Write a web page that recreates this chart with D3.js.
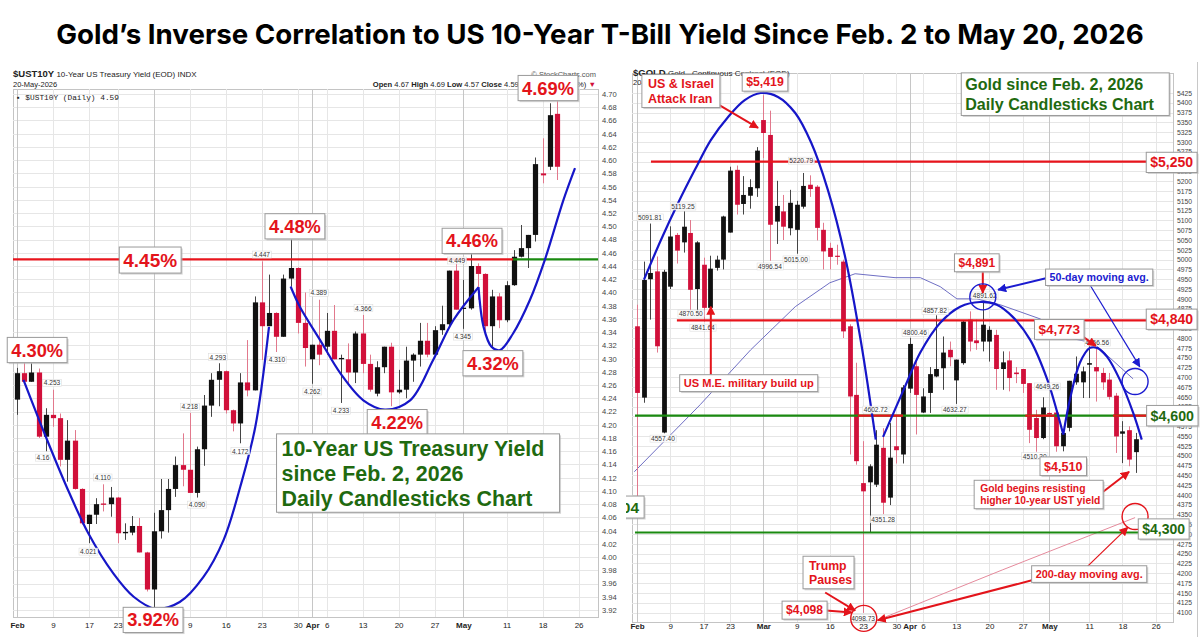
<!DOCTYPE html>
<html>
<head>
<meta charset="utf-8">
<script src="https://cdn.jsdelivr.net/npm/d3@7"></script>
<style>
  body { margin: 0; background: #fff; }
  svg { display: block; }
  text { font-family: "Liberation Sans", Arial, sans-serif; }
</style>
</head>
<body>
<svg id="chart" width="1200" height="637"></svg>
<script>

// ---------------- data ----------------

// trading-day x ticks (index into the candle arrays), shared by both charts
const dayTicks = [
  ["Feb", 0], ["9", 5], ["17", 10], ["23", 14], ["Mar", 19], ["9", 24], ["16", 29],
  ["23", 34], ["30", 39], ["Apr", 41], ["6", 43], ["13", 48], ["20", 53], ["27", 58],
  ["May", 62], ["11", 68], ["18", 73], ["26", 78]
]
const monthNames = ["Feb", "Mar", "Apr", "May"]

// $UST10Y daily candles, Feb 2 - May 20 2026 : [open, high, low, close]
const ustCandles = [
  [4.238,4.286,4.215,4.278],[4.278,4.296,4.265,4.265],[4.265,4.293,4.265,4.279],[4.279,4.285,4.180,4.182],
  [4.182,4.225,4.160,4.215],[4.215,4.253,4.197,4.210],[4.210,4.217,4.137,4.147],[4.147,4.207,4.114,4.176],
  [4.176,4.192,4.102,4.103],[4.103,4.104,4.049,4.051],[4.050,4.064,4.021,4.064],[4.064,4.089,4.050,4.080],
  [4.081,4.110,4.069,4.079],[4.080,4.106,4.061,4.090],[4.090,4.091,4.021,4.036],[4.036,4.051,4.026,4.038],
  [4.037,4.062,4.033,4.047],[4.047,4.059,4.007,4.007],[4.007,4.008,3.948,3.951],[3.951,4.067,3.920,4.039],
  [4.039,4.118,4.028,4.071],[4.071,4.118,4.037,4.103],[4.103,4.152,4.091,4.139],[4.139,4.187,4.107,4.132],
  [4.132,4.218,4.097,4.097],[4.097,4.167,4.090,4.163],[4.163,4.245,4.138,4.229],[4.229,4.278,4.212,4.268],
  [4.268,4.293,4.228,4.281],[4.281,4.282,4.217,4.222],[4.222,4.223,4.190,4.202],[4.202,4.278,4.172,4.264],
  [4.264,4.328,4.243,4.252],[4.252,4.394,4.252,4.385],[4.385,4.447,4.298,4.349],[4.349,4.427,4.349,4.369],
  [4.369,4.370,4.310,4.333],[4.333,4.427,4.333,4.421],[4.421,4.480,4.409,4.437],[4.437,4.438,4.338,4.354],
  [4.354,4.400,4.288,4.316],[4.299,4.321,4.262,4.321],[4.321,4.389,4.290,4.306],[4.318,4.369,4.306,4.342],
  [4.342,4.381,4.299,4.299],[4.299,4.306,4.233,4.301],[4.299,4.323,4.263,4.279],[4.279,4.341,4.263,4.338],
  [4.338,4.366,4.278,4.292],[4.292,4.306,4.250,4.253],[4.247,4.296,4.243,4.287],[4.287,4.318,4.278,4.318],
  [4.318,4.324,4.228,4.249],[4.249,4.283,4.247,4.253],[4.253,4.318,4.240,4.297],[4.297,4.308,4.265,4.306],
  [4.306,4.354,4.288,4.327],[4.327,4.354,4.302,4.306],[4.306,4.349,4.303,4.343],[4.343,4.380,4.336,4.352],
  [4.352,4.433,4.346,4.433],[4.433,4.449,4.374,4.374],[4.375,4.419,4.345,4.377],[4.376,4.460,4.374,4.440],
  [4.440,4.444,4.389,4.428],[4.428,4.429,4.338,4.349],[4.349,4.404,4.318,4.394],[4.394,4.399,4.346,4.358],
  [4.358,4.417,4.355,4.411],[4.411,4.464,4.410,4.454],[4.454,4.502,4.453,4.467],[4.467,4.487,4.437,4.487],
  [4.487,4.604,4.477,4.594],[4.580,4.633,4.565,4.577],[4.590,4.686,4.585,4.668],[4.670,4.690,4.570,4.590]
]

// $GOLD daily candles, same days : [open, high, low, close]
const goldCandles = [
  [4830,4885,4396,4660],[4648,4995,4635,4948],[4950,5092,4847,4966],[4970,5008,4763,4779],
  [4559,4974,4557,4969],[4931,5085,4925,5059],[5063,5068,4990,5023],[5044,5123,5018,5084],
  [5068,5101,4870,4923],[4925,5047,4865,5044],[4987,5005,4842,4877],[4877,5010,4870,4977],
  [4979,5010,4972,5000],[5000,5112,4975,5110],[5069,5237,5069,5227],[5229,5240,5115,5140],
  [5142,5213,5115,5165],[5163,5205,5130,5185],[5182,5287,5160,5278],[5356,5419,5259,5323],
  [5318,5380,4997,5089],[5097,5201,5040,5137],[5123,5165,5050,5084],[5080,5178,5062,5145],
  [5076,5150,5015,5140],[5135,5221,5130,5188],[5191,5215,5160,5180],[5186,5190,5049,5081],
  [5076,5094,4975,5021],[5030,5043,4975,5007],[5010,5038,4987,5007],[4995,5000,4800,4817],
  [4830,4835,4503,4651],[4655,4737,4477,4486],[4430,4537,4099,4409],[4432,4478,4304,4473],
  [4426,4565,4420,4528],[4520,4570,4351,4380],[4393,4583,4374,4495],[4524,4603,4480,4514],
  [4503,4680,4480,4674],[4671,4800,4660,4785],[4728,4745,4554,4655],[4610,4672,4609,4651],
  [4660,4726,4609,4708],[4702,4858,4700,4721],[4723,4804,4668,4763],[4770,4791,4728,4751],
  [4692,4745,4632,4745],[4736,4845,4732,4842],[4847,4868,4766,4791],[4794,4847,4770,4787],
  [4791,4892,4766,4834],[4791,4830,4740,4821],[4808,4821,4668,4721],[4721,4766,4668,4738],
  [4743,4766,4664,4698],[4712,4726,4685,4708],[4721,4721,4660,4683],[4685,4685,4532,4566],
  [4596,4617,4510,4545],[4545,4649,4542,4623],[4609,4611,4600,4605],[4610,4610,4510,4524],
  [4524,4562,4511,4558],[4571,4691,4562,4691],[4687,4753,4681,4709],[4687,4727,4647,4715],
  [4732,4796,4647,4736],[4726,4773,4638,4715],[4711,4724,4668,4687],[4694,4711,4643,4650],
  [4653,4660,4507,4549],[4556,4588,4481,4562],[4565,4575,4473,4490],[4509,4558,4456,4542]
]

// y-axis tick labels
const ustTicks  = d3.range(392, 471, 2).map(d => d / 100)
const goldTicks = d3.range(4100, 5426, 25)

const gold50ma  = [[-0.4,4459],[9.5,4630],[17.1,4770],[23.8,4880],[29,4941],[32.8,4964],[38.8,4954],
                   [42.6,4954],[45.6,4931],[48.1,4900],[51.1,4900],[54.6,4885],[60.6,4849],[65.6,4798],
                   [68.6,4788],[74.6,4696]]
const gold200ma = [[36.1,4080],[55,4209],[74.9,4342]]

// hand-drawn blue trend arcs : [dayIndex, value]
const ustArcs = [
  [[0.9,4.268],[4,4.182],[6.9,4.106],[9.9,4.036],[13.4,3.975],[16.2,3.940],[19.2,3.922],[22.6,3.932],
   [25.9,3.970],[28.7,4.026],[31,4.106],[33.1,4.197],[35,4.348]],
  [[38,4.409],[39.3,4.378],[42.1,4.328],[44.9,4.278],[48.1,4.237],[51.1,4.223],[54.6,4.237],[57.8,4.298],
   [60.6,4.358],[64.1,4.408]],
  [[64.1,4.408],[64.8,4.348],[65.9,4.318],[67.1,4.313],[68.9,4.338],[71.25,4.389],[73.3,4.449],
   [75.9,4.540],[77.5,4.588]]
]
const goldArcs = [
  [[1.05,4949],[3.6,5050],[6.2,5145],[8.7,5229],[11.1,5305],[13.7,5364],[16.2,5407],[18.6,5425],
   [21.2,5415],[23.8,5374],[26.2,5298],[28.7,5178],[31.3,5007],[33.7,4788],[35.9,4541]],
  [[37,4548],[40.3,4676],[42.6,4763],[45.6,4839],[48.6,4880],[51.6,4892],[54.1,4885],[56.5,4854],
   [59.1,4796],[61.7,4694],[63.2,4610],[64.1,4554]],
  [[64.1,4554],[65.1,4643],[66.6,4737],[68.1,4775],[69.2,4775],[70.7,4752],[72.6,4694],[74.6,4610],
   [75.9,4541]]
]

// horizontal levels
const ustLevel  = 4.45
const goldLevels = [
  { v: 5250, from: 2.1,  c: "red" },
  { v: 4845, from: 6.0,  c: "red" },
  { v: 4602, from: -0.3, c: "green" },
  { v: 4304, from: -0.3, c: "green" }
]
const goldRedOn4600 = [[33.2, 40.0], [58.4, 62.8], [71.6, 76.8]]

// small price labels : [dayIndex, value, text]
const ustPriceLabels = [
  [4.86,4.263,"4.253"],[3.6,4.150,"4.16"],[11.9,4.120,"4.110"],[9.9,4.008,"4.021"],[24,4.227,"4.218"],
  [25,4.079,"4.090"],[27.9,4.302,"4.293"],[31,4.160,"4.172"],[34,4.457,"4.447"],[36.1,4.298,"4.310"],
  [41.9,4.399,"4.389"],[41,4.250,"4.262"],[45,4.221,"4.233"],[48.1,4.376,"4.366"],[61.1,4.448,"4.449"],
  [61.9,4.333,"4.345"]
]
const goldPriceLabels = [
  [1.95,5107,"5091.81"],[6.9,5135,"5119.25"],[8.1,4862,"4870.50"],[9.9,4826,"4841.64"],
  [20,4982,"4996.54"],[23.9,5000,"5015.00"],[24.7,5252,"5220.79"],[3.9,4543,"4557.40"],
  [35.9,4617,"4602.72"],[37,4337,"4351.28"],[34,4085,"4098.73"],[41.8,4813,"4800.46"],
  [44.8,4869,"4857.82"],[52.3,4908,"4891.62"],[47.8,4617,"4632.27"],[61.7,4676,"4649.26"],
  [59.8,4498,"4510.30"],[69.2,4788,"4756.56"]
]

// callout boxes anchored at [dayIndex, value]
const ustCallouts = [
  { lines: ["4.30%"], i: 2.8,   v: 4.313, fs: 18.3, c: "red" },
  { lines: ["4.45%"], i: 18.5,  v: 4.449, fs: 19,   c: "red" },
  { lines: ["4.48%"], i: 38.6,  v: 4.500, fs: 18.3, c: "red" },
  { lines: ["3.92%"], i: 18.9,  v: 3.905, fs: 18.3, c: "red" },
  { lines: ["4.22%"], i: 52.8,  v: 4.204, fs: 18.3, c: "red" },
  { lines: ["4.32%"], i: 66.1,  v: 4.293, fs: 18.3, c: "red" },
  { lines: ["4.46%"], i: 63.2,  v: 4.478, fs: 18.3, c: "red" },
  { lines: ["4.69%"], i: 73.75, v: 4.709, fs: 18.3, c: "red" },
  { lines: ["10-Year US Treasury Yield", "since Feb. 2, 2026", "Daily Candlesticks Chart"],
    i: 55.7, v: 4.127, fs: 21.4, lh: 24.8, c: "green", left: true, padX: 3, bw: 283 }
]
const goldCallouts = [
  { lines: ["$5,419"], i: 19.25, v: 5453, fs: 12.3, c: "red" },
  { lines: ["US & Israel", "Attack Iran"], i: 6.6, v: 5430, fs: 12.5, c: "red", left: true, bw: 78 },
  { lines: ["$5,250"], i: 80.4, v: 5248, fs: 14, c: "red" },
  { lines: ["$4,840"], i: 80.4, v: 4848, fs: 14, c: "red" },
  { lines: ["$4,600"], i: 80.5, v: 4602, fs: 14.2, c: "green" },
  { lines: ["$4,300"], i: 79.2, v: 4313, fs: 14, c: "green" },
  { lines: ["$4,304"], i: -3.25, v: 4369, fs: 15.5, c: "green", padX: 5 },
  { lines: ["US M.E. military build up"], i: 16.8, v: 4685, fs: 11.1, c: "red" },
  { lines: ["Trump", "Pauses"], i: 28.8, v: 4202, fs: 12.3, c: "red", left: true, bw: 51 },
  { lines: ["$4,098"], i: 25.2, v: 4106, fs: 12.1, c: "red" },
  { lines: ["$4,891"], i: 51.1, v: 4992, fs: 12, c: "red" },
  { lines: ["50-day moving avg."], i: 69.5, v: 4955, fs: 10.7, c: "blue" },
  { lines: ["$4,773"], i: 63.5, v: 4822, fs: 13.6, c: "red" },
  { lines: ["$4,510"], i: 64.1, v: 4473, fs: 12.6, c: "red" },
  { lines: ["Gold begins resisting", "higher 10-year UST yield"], i: 60.4, v: 4401, fs: 10.3, lh: 12.2, c: "red", left: true, bw: 129 },
  { lines: ["200-day moving avg."], i: 68.0, v: 4198, fs: 10.9, c: "red" },
  { lines: ["Gold since Feb. 2, 2026", "Daily Candlesticks Chart"], i: 64.4, v: 5422, fs: 16.1, lh: 19.3, c: "green", left: true, padX: 2, bw: 208 }
]

// arrows and circles on the gold chart : [dayIndex, value]
const goldArrows = [
  { from: [11.1,5407], to: [18.2,5336], c: "red" },
  { from: [11.1,4706], to: [11.1,4880], c: "red" },
  { from: [28.3,4151], to: [32.8,4105], c: "red" },
  { from: [28.4,4105], to: [32.3,4100], c: "red" },
  { from: [52.0,4971], to: [52.0,4915], c: "red" },
  { from: [61.8,4954], to: [54.3,4923], c: "blue" },
  { from: [68.1,4936], to: [75.6,4727], c: "blue", thin: true },
  { from: [67.1,4803], to: [69.0,4780], c: "red" },
  { from: [70.1,4408], to: [74.0,4459], c: "red" },
  { from: [67.7,4217], to: [73.8,4317], c: "red", thin: true },
  { from: [59.8,4184], to: [36.2,4080], c: "red" }
]
const goldCircles = [
  { at: [34.1,4085], c: "red" },
  { at: [52.0,4905], c: "blue" },
  { at: [74.9,4689], c: "blue" },
  { at: [74.9,4345], c: "red" }
]

// ---------------- drawing ----------------

const colors = { red: "#e3141b", green: "#1f6a10", blue: "#1b1bd0" }
const upColor = "#111", downColor = "#d1103a"

const svg = d3.select("#chart")

const defs = svg.append("defs")
;["red", "blue"].forEach(c => {
  defs.append("marker").attr("id", "arrow-" + c)
    .attr("viewBox", "0 0 10 10").attr("refX", 9).attr("refY", 5)
    .attr("markerWidth", 9).attr("markerHeight", 9).attr("markerUnits", "userSpaceOnUse")
    .attr("orient", "auto")
    .append("path").attr("d", "M0,0 L10,5 L0,10 z").attr("fill", colors[c])
})
defs.append("clipPath").attr("id", "goldPanel")
  .append("rect").attr("x", 626).attr("y", 60).attr("width", 574).attr("height", 577)

// title
const title = svg.append("text")
  .attr("x", 600).attr("y", 44).attr("text-anchor", "middle")
  .style("font-family", "Inter, 'Liberation Sans', sans-serif")
  .attr("font-weight", 700).attr("font-size", 27).attr("fill", "#000")
  .text("Gold\u2019s Inverse Correlation to US 10-Year T-Bill Yield Since Feb. 2 to May 20, 2026")
const tw = title.node().getComputedTextLength()
title.attr("font-size", 27 * 1088 / tw)

// image frame on the right
svg.append("line").attr("x1", 1197.5).attr("x2", 1197.5).attr("y1", 62).attr("y2", 637)
  .attr("stroke", "#c8c8c8")


function drawPanel(p) {
  const g = svg.append("g")
  if (p.clip) g.attr("clip-path", "url(#" + p.clip + ")")
  const x = p.x, y = p.y

  // plot frame + grid
  g.append("rect").attr("x", p.x0 + 0.5).attr("y", p.y0 + 0.5)
    .attr("width", p.x1 - p.x0).attr("height", p.y1 - p.y0)
    .attr("fill", "#fff").attr("stroke", "#c4c4c4")

  g.append("g").selectAll("line").data(p.yTicks).join("line")
    .attr("x1", p.x0).attr("x2", p.x1)
    .attr("y1", d => Math.round(y(d)) + 0.5).attr("y2", d => Math.round(y(d)) + 0.5)
    .attr("stroke", "#e6e6e6")

  g.append("g").selectAll("line").data(dayTicks).join("line")
    .attr("x1", d => Math.round(x(d[1])) + 0.5).attr("x2", d => Math.round(x(d[1])) + 0.5)
    .attr("y1", p.y0).attr("y2", p.y1)
    .attr("stroke", d => monthNames.includes(d[0]) ? "#c6c6c6" : "#e6e6e6")

  // axes
  const yAxis = d3.axisRight(y).tickValues(p.yTicks).tickSize(0).tickPadding(0).tickFormat(p.fmt)
  const ya = g.append("g").attr("transform", `translate(${p.x1 + 4},0)`).call(yAxis)
  ya.select(".domain").remove()
  ya.selectAll("text").attr("font-size", p.yFont).attr("fill", "#444")
    .style("font-family", "'Liberation Sans', Arial, sans-serif")

  const labelOf = new Map(dayTicks.map(d => [d[1], d[0]]))
  const xAxis = d3.axisBottom(x).tickValues(dayTicks.map(d => d[1])).tickSize(0).tickPadding(p.xPad)
    .tickFormat(i => labelOf.get(i))
  const xa = g.append("g").attr("transform", `translate(0,${p.y1})`).call(xAxis)
  xa.select(".domain").remove()
  xa.selectAll("text").attr("font-size", 8).attr("fill", "#222")
    .style("font-family", "'Liberation Sans', Arial, sans-serif")
    .attr("font-weight", d => monthNames.includes(labelOf.get(d)) ? "bold" : "normal")

  // moving averages
  const lineXY = d3.line().x(d => x(d[0])).y(d => y(d[1]))
  ;(p.mas || []).forEach(m => {
    g.append("path").attr("d", lineXY(m.data)).attr("fill", "none")
      .attr("stroke", m.color).attr("stroke-width", 1)
  })

  // candles
  const up = d => d[3] >= d[0]
  g.append("g").selectAll("line").data(p.candles).join("line")
    .attr("x1", (d, i) => Math.round(x(i)) + 0.5).attr("x2", (d, i) => Math.round(x(i)) + 0.5)
    .attr("y1", d => y(d[1])).attr("y2", d => y(d[2]))
    .attr("stroke", d => up(d) ? "#444" : "#e2788c").attr("stroke-width", 1)
  g.append("g").selectAll("rect").data(p.candles).join("rect")
    .attr("x", (d, i) => Math.round(x(i)) + 0.5 - p.bodyW / 2)
    .attr("y", d => y(Math.max(d[0], d[3])))
    .attr("width", p.bodyW)
    .attr("height", d => Math.max(1.2, Math.abs(y(d[0]) - y(d[3]))))
    .attr("fill", d => up(d) ? upColor : downColor)

  return g
}

function drawArcs(g, arcs, x, y) {
  const curve = d3.line().x(d => x(d[0])).y(d => y(d[1])).curve(d3.curveCatmullRom.alpha(0.5))
  arcs.forEach(a => g.append("path").attr("d", curve(a))
    .attr("fill", "none").attr("stroke", "#1616c8").attr("stroke-width", 2.2))
}

function drawPriceLabels(g, labels, x, y) {
  labels.forEach(d => {
    const t = g.append("text").attr("x", x(d[0])).attr("y", y(d[1]) + 2.3)
      .attr("text-anchor", "middle").attr("font-size", 6.6).attr("fill", "#333").text(d[2])
    const bb = t.node().getBBox()
    g.insert("rect", () => t.node())
      .attr("x", bb.x - 1).attr("y", bb.y).attr("width", bb.width + 2).attr("height", bb.height)
      .attr("fill", "#fff").attr("fill-opacity", 0.85).attr("stroke", "#d8d8d8").attr("stroke-width", 0.5)
  })
}

function drawCallouts(g, callouts, x, y) {
  callouts.forEach(c => {
    const lh = c.lh || c.fs * 1.16
    const padX = c.padX != null ? c.padX : 4, padY = 2
    const grp = g.append("g")
    const t = grp.append("text").attr("font-size", c.fs).attr("font-weight", "bold").attr("fill", colors[c.c])
    c.lines.forEach(s => t.append("tspan").text(s))
    const widths = []
    t.selectAll("tspan").each(function () { widths.push(this.getComputedTextLength()) })
    const w = c.bw || d3.max(widths) + padX * 2
    const h = c.lines.length * lh + padY * 2
    const left = x(c.i) - w / 2, top = y(c.v) - h / 2
    t.selectAll("tspan")
      .attr("x", c.left ? left + padX + 2 : x(c.i))
      .attr("y", (s, k) => top + padY + k * lh + lh / 2 + c.fs * 0.358)
      .attr("text-anchor", c.left ? "start" : "middle")
    grp.insert("rect", "text").attr("x", left + 1.5).attr("y", top + 1.5).attr("width", w).attr("height", h)
      .attr("fill", "#b8b8b8").attr("opacity", 0.6)
    grp.insert("rect", "text").attr("x", left).attr("y", top).attr("width", w).attr("height", h)
      .attr("fill", "#fff").attr("stroke", "#9a9a9a").attr("stroke-width", 1)
  })
}


// ---------- left: 10-year yield ----------
const xU = d3.scaleLinear().domain([0, 75]).range([17, 557])
const yU = d3.scaleLinear().domain([3.92, 4.70]).range([610, 94])

const gU = drawPanel({
  x: xU, y: yU, x0: 13, x1: 598, y0: 89, y1: 617,
  yTicks: ustTicks, fmt: d3.format(".2f"), yFont: 7.6, xPad: 5,
  candles: ustCandles, bodyW: 5.2
})

// header text
const hU = svg.append("g").attr("fill", "#222")
hU.append("text").attr("x", 13).attr("y", 77).attr("font-size", 8)
  .call(t => {
    t.append("tspan").attr("font-weight", "bold").attr("font-size", 9.5).text("$UST10Y")
    t.append("tspan").text(" 10-Year US Treasury Yield (EOD) INDX")
  })
hU.append("text").attr("x", 13).attr("y", 86.5).attr("font-size", 7.5).text("20-May-2026")
hU.append("text").attr("x", 596).attr("y", 77).attr("font-size", 7.5).attr("text-anchor", "end")
  .attr("fill", "#555").text("\u00A9 StockCharts.com")
hU.append("text").attr("x", 596).attr("y", 87).attr("font-size", 7.6).attr("text-anchor", "end")
  .call(t => {
    t.append("tspan").attr("font-weight", "bold").text("Open ")
    t.append("tspan").text("4.67  ")
    t.append("tspan").attr("font-weight", "bold").text("High ")
    t.append("tspan").text("4.69  ")
    t.append("tspan").attr("font-weight", "bold").text("Low ")
    t.append("tspan").text("4.57  ")
    t.append("tspan").attr("font-weight", "bold").text("Close ")
    t.append("tspan").text("4.59  ")
    t.append("tspan").attr("font-weight", "bold").text("Chg ")
    t.append("tspan").text("-0.08 (-1.69%) ")
    t.append("tspan").attr("fill", "#d1103a").text("\u25BC")
  })
gU.append("text").attr("x", 16).attr("y", 100).attr("font-size", 7.8)
  .style("font-family", "'Liberation Mono', monospace").attr("fill", "#222")
  .text("\u25AA $UST10Y (Daily) 4.59")

// 4.45% resistance, red then green once broken
gU.append("line").attr("x1", 13).attr("x2", 513).attr("y1", yU(ustLevel)).attr("y2", yU(ustLevel))
  .attr("stroke", "#e8141c").attr("stroke-width", 2.2)
gU.append("line").attr("x1", 513).attr("x2", 598).attr("y1", yU(ustLevel)).attr("y2", yU(ustLevel))
  .attr("stroke", "#1a8a10").attr("stroke-width", 2.2)

drawArcs(gU, ustArcs, xU, yU)
drawPriceLabels(gU, ustPriceLabels, xU, yU)
drawCallouts(svg.append("g"), ustCallouts, xU, yU)


// ---------- right: gold ----------
const xG = d3.scaleLinear().domain([0, 75]).range([637, 1135.75])
const yG = d3.scaleLinear().domain([4100, 5425]).range([612.5, 93])

const gG = drawPanel({
  x: xG, y: yG, x0: 632, x1: 1173, y0: 73, y1: 622,
  yTicks: goldTicks, fmt: d3.format("d"), yFont: 6.8, xPad: 1,
  candles: goldCandles, bodyW: 4.8, clip: "goldPanel",
  mas: [{ data: gold50ma, color: "#6f6fc4" }, { data: gold200ma, color: "#e58a9c" }]
})

const hG = svg.append("g").attr("fill", "#222")
hG.append("text").attr("x", 633).attr("y", 76).attr("font-size", 8)
  .call(t => {
    t.append("tspan").attr("font-weight", "bold").attr("font-size", 9.5).text("$GOLD")
    t.append("tspan").text(" Gold - Continuous Contract (EOD)")
  })
hG.append("text").attr("x", 633).attr("y", 85).attr("font-size", 7.5).text("20-May-2026")

// horizontal support / resistance levels
goldLevels.forEach(l => {
  gG.append("line").attr("x1", xG(l.from)).attr("x2", 1150)
    .attr("y1", yG(l.v)).attr("y2", yG(l.v))
    .attr("stroke", l.c === "red" ? "#e8141c" : "#1a8a10").attr("stroke-width", 2.2)
})
goldRedOn4600.forEach(s => {
  gG.append("line").attr("x1", xG(s[0])).attr("x2", xG(s[1]))
    .attr("y1", yG(4602)).attr("y2", yG(4602))
    .attr("stroke", "#e8141c").attr("stroke-width", 2.2)
})

drawArcs(gG, goldArcs, xG, yG)
drawPriceLabels(gG, goldPriceLabels, xG, yG)

// arrows
goldArrows.forEach(a => {
  gG.append("line")
    .attr("x1", xG(a.from[0])).attr("y1", yG(a.from[1]))
    .attr("x2", xG(a.to[0])).attr("y2", yG(a.to[1]))
    .attr("stroke", colors[a.c]).attr("stroke-width", a.thin ? 1.2 : 2)
    .attr("marker-end", `url(#arrow-${a.c})`)
})

// circles
goldCircles.forEach(c => {
  gG.append("circle").attr("cx", xG(c.at[0])).attr("cy", yG(c.at[1])).attr("r", 13)
    .attr("fill", "none").attr("stroke", colors[c.c]).attr("stroke-width", 1.4)
})

drawCallouts(svg.append("g").attr("clip-path", "url(#goldPanel)"), goldCallouts, xG, yG)

</script>
</body>
</html>
